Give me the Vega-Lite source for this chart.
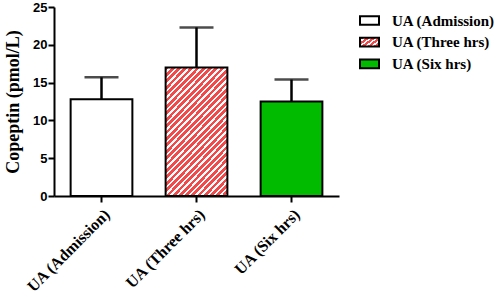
{
  "$schema": "https://vega.github.io/schema/vega-lite/v6.json",
  "autosize": {"type": "none"},
  "padding": {"left": 54, "top": 7, "right": 161, "bottom": 101},
  "width": 285,
  "height": 189,
  "background": "white",
  "config": {"view": {"stroke": null}, "axisY": {"tickCount": 6, "labelOverlap": false}},
  "data": {"values": [
    {"group": "UA (Admission)", "mean": 12.8, "upper": 15.7},
    {"group": "UA (Three hrs)", "mean": 17.0, "upper": 22.3},
    {"group": "UA (Six hrs)", "mean": 12.5, "upper": 15.4}
  ]},
  "encoding": {
    "x": {"field": "group", "type": "nominal", "sort": null,
      "scale": {"paddingInner": 0.35, "paddingOuter": 0.175},
      "axis": {"title": null, "labelAngle": -45, "labelFont": "Liberation Serif", "labelFontWeight": "bold", "labelFontSize": 16, "labelColor": "black",
        "domainColor": "black", "domainWidth": 2, "tickColor": "black", "tickWidth": 2, "tickSize": 6, "labelPadding": 4}}
  },
  "layer": [
    {
      "mark": {"type": "bar", "stroke": "black", "strokeWidth": 2},
      "encoding": {
        "y": {"field": "mean", "type": "quantitative",
          "scale": {"domain": [0, 25], "nice": false},
          "axis": {"values": [0, 5, 10, 15, 20, 25], "tickCount": 6, "labelOverlap": false, "grid": false, "title": "Copeptin (pmol/L)",
            "titleFont": "Liberation Serif", "titleFontWeight": "bold", "titleFontSize": 18, "titleColor": "black", "titlePadding": 10,
            "labelFont": "Liberation Sans", "labelFontWeight": "bold", "labelFontSize": 13, "labelColor": "black", "labelPadding": 1,
            "domainColor": "black", "domainWidth": 2, "tickColor": "black", "tickWidth": 2, "tickSize": 6}},
        "fill": {
          "condition": {"test": "datum.group === 'UA (Three hrs)'",
            "value": {"gradient": "linear", "x1": 0, "y1": 0, "x2": 0.595, "y2": 1.2, "stops": [
                {"offset": 0, "color": "#f24a4a"}, {"offset": 0.02, "color": "#f24a4a"}, {"offset": 0.02, "color": "white"}, {"offset": 0.0333, "color": "white"},
                {"offset": 0.0333, "color": "#f24a4a"}, {"offset": 0.0533, "color": "#f24a4a"}, {"offset": 0.0533, "color": "white"}, {"offset": 0.0667, "color": "white"},
                {"offset": 0.0667, "color": "#f24a4a"}, {"offset": 0.0867, "color": "#f24a4a"}, {"offset": 0.0867, "color": "white"}, {"offset": 0.1, "color": "white"},
                {"offset": 0.1, "color": "#f24a4a"}, {"offset": 0.12, "color": "#f24a4a"}, {"offset": 0.12, "color": "white"}, {"offset": 0.1333, "color": "white"},
                {"offset": 0.1333, "color": "#f24a4a"}, {"offset": 0.1533, "color": "#f24a4a"}, {"offset": 0.1533, "color": "white"}, {"offset": 0.1667, "color": "white"},
                {"offset": 0.1667, "color": "#f24a4a"}, {"offset": 0.1867, "color": "#f24a4a"}, {"offset": 0.1867, "color": "white"}, {"offset": 0.2, "color": "white"},
                {"offset": 0.2, "color": "#f24a4a"}, {"offset": 0.22, "color": "#f24a4a"}, {"offset": 0.22, "color": "white"}, {"offset": 0.2333, "color": "white"},
                {"offset": 0.2333, "color": "#f24a4a"}, {"offset": 0.2533, "color": "#f24a4a"}, {"offset": 0.2533, "color": "white"}, {"offset": 0.2667, "color": "white"},
                {"offset": 0.2667, "color": "#f24a4a"}, {"offset": 0.2867, "color": "#f24a4a"}, {"offset": 0.2867, "color": "white"}, {"offset": 0.3, "color": "white"},
                {"offset": 0.3, "color": "#f24a4a"}, {"offset": 0.32, "color": "#f24a4a"}, {"offset": 0.32, "color": "white"}, {"offset": 0.3333, "color": "white"},
                {"offset": 0.3333, "color": "#f24a4a"}, {"offset": 0.3533, "color": "#f24a4a"}, {"offset": 0.3533, "color": "white"}, {"offset": 0.3667, "color": "white"},
                {"offset": 0.3667, "color": "#f24a4a"}, {"offset": 0.3867, "color": "#f24a4a"}, {"offset": 0.3867, "color": "white"}, {"offset": 0.4, "color": "white"},
                {"offset": 0.4, "color": "#f24a4a"}, {"offset": 0.42, "color": "#f24a4a"}, {"offset": 0.42, "color": "white"}, {"offset": 0.4333, "color": "white"},
                {"offset": 0.4333, "color": "#f24a4a"}, {"offset": 0.4533, "color": "#f24a4a"}, {"offset": 0.4533, "color": "white"}, {"offset": 0.4667, "color": "white"},
                {"offset": 0.4667, "color": "#f24a4a"}, {"offset": 0.4867, "color": "#f24a4a"}, {"offset": 0.4867, "color": "white"}, {"offset": 0.5, "color": "white"},
                {"offset": 0.5, "color": "#f24a4a"}, {"offset": 0.52, "color": "#f24a4a"}, {"offset": 0.52, "color": "white"}, {"offset": 0.5333, "color": "white"},
                {"offset": 0.5333, "color": "#f24a4a"}, {"offset": 0.5533, "color": "#f24a4a"}, {"offset": 0.5533, "color": "white"}, {"offset": 0.5667, "color": "white"},
                {"offset": 0.5667, "color": "#f24a4a"}, {"offset": 0.5867, "color": "#f24a4a"}, {"offset": 0.5867, "color": "white"}, {"offset": 0.6, "color": "white"},
                {"offset": 0.6, "color": "#f24a4a"}, {"offset": 0.62, "color": "#f24a4a"}, {"offset": 0.62, "color": "white"}, {"offset": 0.6333, "color": "white"},
                {"offset": 0.6333, "color": "#f24a4a"}, {"offset": 0.6533, "color": "#f24a4a"}, {"offset": 0.6533, "color": "white"}, {"offset": 0.6667, "color": "white"},
                {"offset": 0.6667, "color": "#f24a4a"}, {"offset": 0.6867, "color": "#f24a4a"}, {"offset": 0.6867, "color": "white"}, {"offset": 0.7, "color": "white"},
                {"offset": 0.7, "color": "#f24a4a"}, {"offset": 0.72, "color": "#f24a4a"}, {"offset": 0.72, "color": "white"}, {"offset": 0.7333, "color": "white"},
                {"offset": 0.7333, "color": "#f24a4a"}, {"offset": 0.7533, "color": "#f24a4a"}, {"offset": 0.7533, "color": "white"}, {"offset": 0.7667, "color": "white"},
                {"offset": 0.7667, "color": "#f24a4a"}, {"offset": 0.7867, "color": "#f24a4a"}, {"offset": 0.7867, "color": "white"}, {"offset": 0.8, "color": "white"},
                {"offset": 0.8, "color": "#f24a4a"}, {"offset": 0.82, "color": "#f24a4a"}, {"offset": 0.82, "color": "white"}, {"offset": 0.8333, "color": "white"},
                {"offset": 0.8333, "color": "#f24a4a"}, {"offset": 0.8533, "color": "#f24a4a"}, {"offset": 0.8533, "color": "white"}, {"offset": 0.8667, "color": "white"},
                {"offset": 0.8667, "color": "#f24a4a"}, {"offset": 0.8867, "color": "#f24a4a"}, {"offset": 0.8867, "color": "white"}, {"offset": 0.9, "color": "white"},
                {"offset": 0.9, "color": "#f24a4a"}, {"offset": 0.92, "color": "#f24a4a"}, {"offset": 0.92, "color": "white"}, {"offset": 0.9333, "color": "white"},
                {"offset": 0.9333, "color": "#f24a4a"}, {"offset": 0.9533, "color": "#f24a4a"}, {"offset": 0.9533, "color": "white"}, {"offset": 0.9667, "color": "white"},
                {"offset": 0.9667, "color": "#f24a4a"}, {"offset": 0.9867, "color": "#f24a4a"}, {"offset": 0.9867, "color": "white"}, {"offset": 1, "color": "white"}
              ]}},
          "field": "group", "type": "nominal", "sort": null,
          "scale": {"domain": ["UA (Admission)", "UA (Three hrs)", "UA (Six hrs)"],
            "range": ["white",
              {"expr": "{gradient: 'linear', x1: 0, y1: 0, x2: 1.176, y2: 0.706, stops: [{offset: 0, color: '#f24a4a'}, {offset: 0.12, color: '#f24a4a'}, {offset: 0.12, color: 'white'}, {offset: 0.2, color: 'white'}, {offset: 0.2, color: '#f24a4a'}, {offset: 0.32, color: '#f24a4a'}, {offset: 0.32, color: 'white'}, {offset: 0.4, color: 'white'}, {offset: 0.4, color: '#f24a4a'}, {offset: 0.52, color: '#f24a4a'}, {offset: 0.52, color: 'white'}, {offset: 0.6, color: 'white'}, {offset: 0.6, color: '#f24a4a'}, {offset: 0.72, color: '#f24a4a'}, {offset: 0.72, color: 'white'}, {offset: 0.8, color: 'white'}, {offset: 0.8, color: '#f24a4a'}, {offset: 0.92, color: '#f24a4a'}, {offset: 0.92, color: 'white'}, {offset: 1, color: 'white'}]}"},
              "#00bb00"]},
          "legend": {"title": null, "orient": "none", "legendX": 305, "legendY": 3, "padding": 0,
            "symbolType": "M-1,-0.46H1V0.46H-1Z", "symbolSize": 361, "symbolStrokeWidth": 2, "symbolOpacity": 1,
            "labelFont": "Liberation Serif", "labelFontWeight": "bold", "labelFontSize": 15, "labelColor": "black", "labelOffset": 12, "rowPadding": 2.7}
        }
      }
    },
    {
      "mark": {"type": "rule", "color": "black", "strokeWidth": 2.5},
      "encoding": {"y": {"field": "mean", "type": "quantitative"}, "y2": {"field": "upper"}}
    },
    {
      "mark": {"type": "tick", "color": "black", "thickness": 2.5, "size": 34},
      "encoding": {"y": {"field": "upper", "type": "quantitative"}}
    }
  ]
}
